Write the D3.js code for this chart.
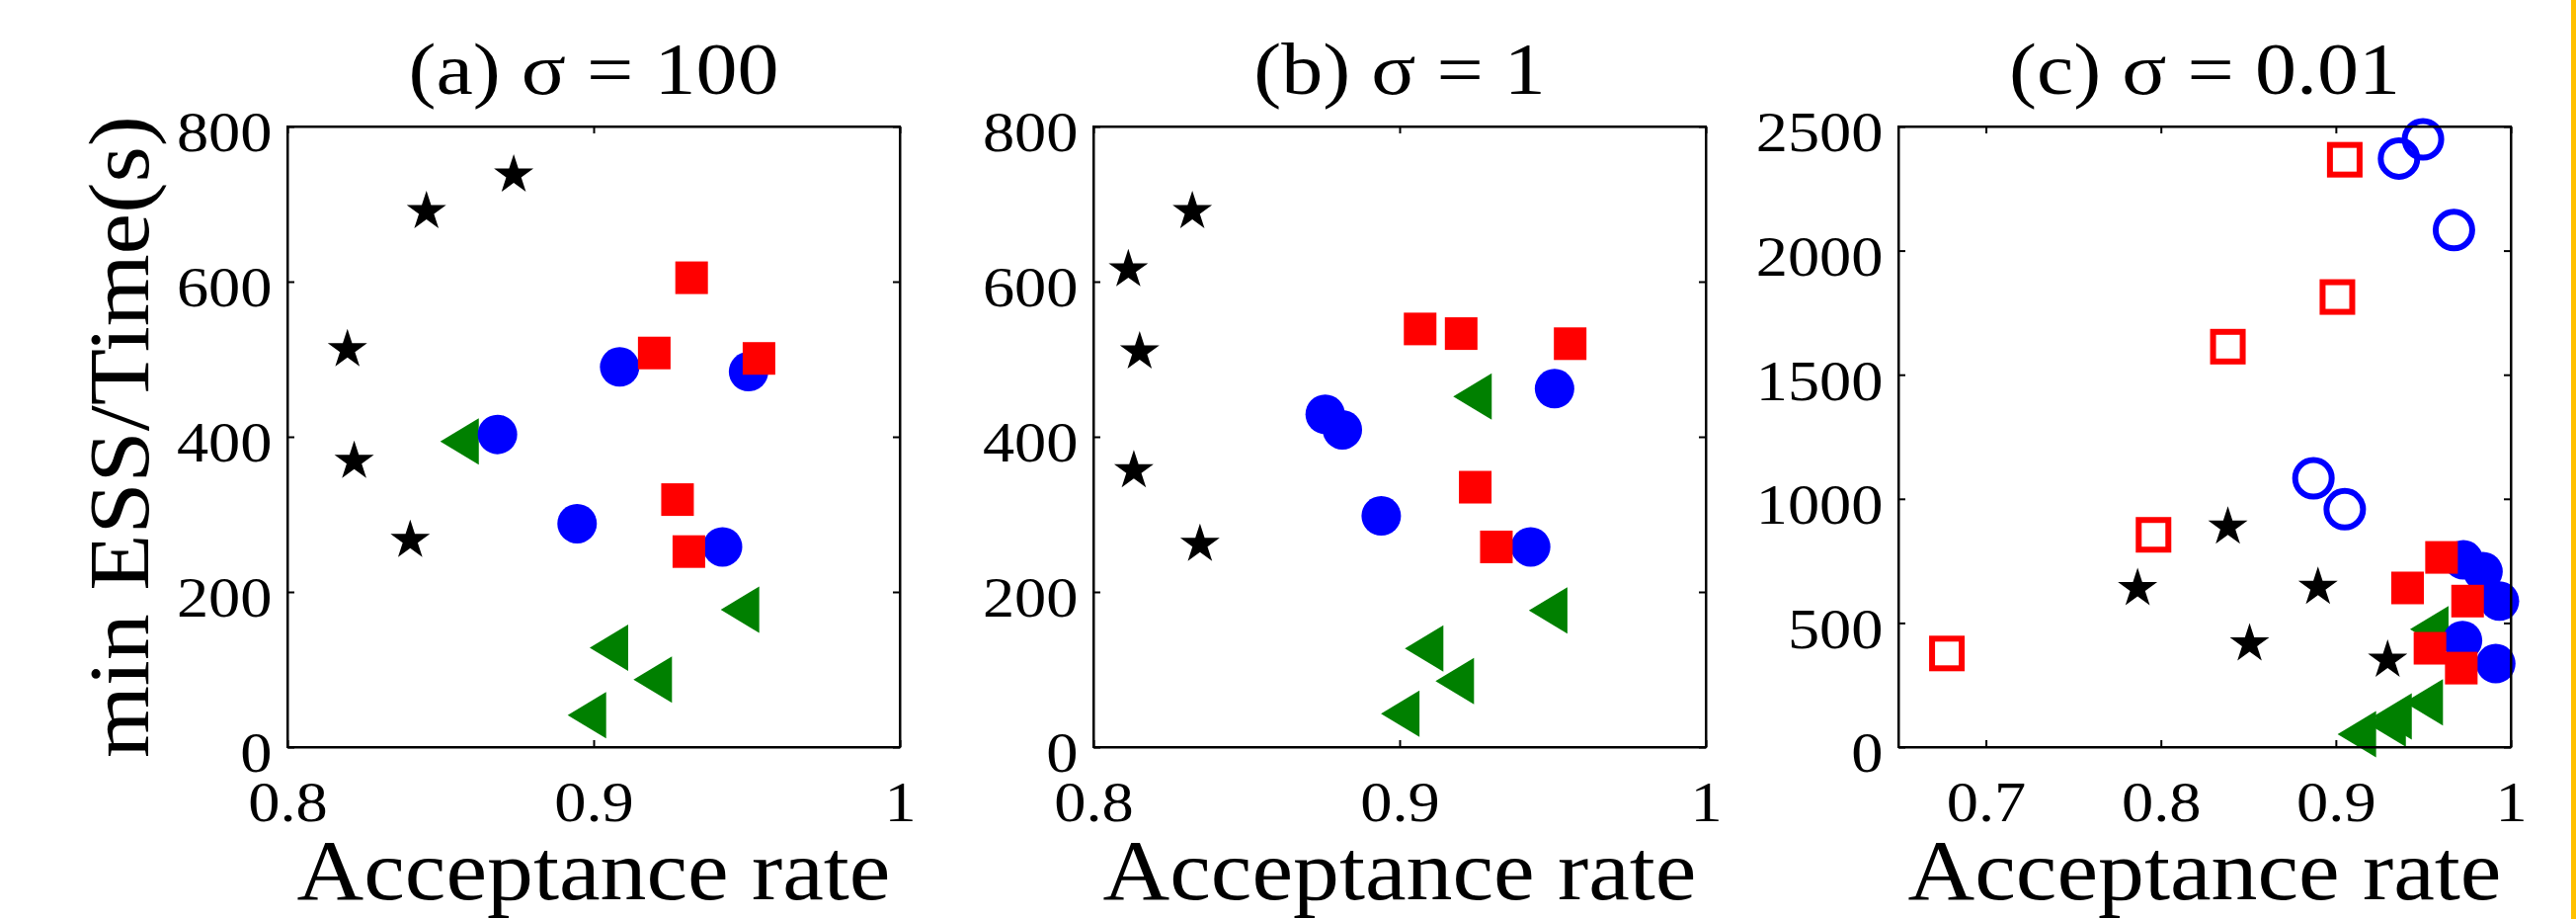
<!DOCTYPE html>
<html><head><meta charset="utf-8">
<script src="https://cdn.jsdelivr.net/npm/d3@7"></script>
<style>body{margin:0;background:#fff;overflow:hidden}</style>
</head><body><svg id="c" width="2608" height="930"></svg>
<script>
// ---------- data ----------
const titles = ["(a) \u03c3 = 100", "(b) \u03c3 = 1", "(c) \u03c3 = 0.01"];
const xLabel = "Acceptance rate";
const yLabel = "min ESS/Time(s)";
const xDomains = [[0.8, 1], [0.8, 1], [0.65, 1]];
const yDomains = [[0, 800], [0, 800], [0, 2500]];
const xTicks = [[0.8, 0.9, 1], [0.8, 0.9, 1], [0.7, 0.8, 0.9, 1]];
const xTickLabels = [["0.8", "0.9", "1"], ["0.8", "0.9", "1"], ["0.7", "0.8", "0.9", "1"]];
const yTicks = [[0, 200, 400, 600, 800], [0, 200, 400, 600, 800], [0, 500, 1000, 1500, 2000, 2500]];
const yTickLabels = [["0", "200", "400", "600", "800"], ["0", "200", "400", "600", "800"], ["0", "500", "1000", "1500", "2000", "2500"]];

// panel (a)
const starA = [[0.8196, 515], [0.8454, 693], [0.8739, 740], [0.8218, 371], [0.8401, 269]];
const circA = [[0.9085, 490], [0.9506, 484], [0.8686, 403], [0.8946, 288], [0.9421, 258]];
const sqA   = [[0.9320, 605], [0.9198, 508], [0.9540, 501], [0.9274, 319], [0.9311, 252]];
const triA  = [[0.8562, 394], [0.9050, 128], [0.9193, 87], [0.8978, 41], [0.9478, 177]];
// panel (b)
const starB = [[0.8114, 618], [0.8323, 693], [0.8151, 512], [0.8132, 359], [0.8348, 264]];
const circB = [[0.8757, 429], [0.8813, 409], [0.9506, 462], [0.8940, 298], [0.9428, 258]];
const sqB   = [[0.9067, 539], [0.9201, 533], [0.9557, 520], [0.9247, 335], [0.9316, 258]];
const triB  = [[0.9238, 452], [0.9485, 176], [0.9080, 127], [0.9180, 85], [0.9002, 43]];
// panel (c)
const starC = [[0.8383, 895], [0.7867, 647], [0.8898, 652], [0.8507, 424], [0.9296, 358]];
const circC = [[0.9729, 754], [0.9841, 707], [0.9935, 588], [0.9724, 429], [0.9914, 336]];
const sqC   = [[0.9604, 764], [0.9410, 641], [0.9753, 588], [0.9538, 398], [0.9717, 318]];
const triC  = [[0.9534, 475], [0.9502, 180], [0.9324, 123], [0.9290, 95], [0.9120, 52]];
const hollowSqC   = [[0.6777, 377], [0.7958, 855], [0.8383, 1613], [0.9009, 1813], [0.9051, 2366]];
const hollowCircC = [[0.9361, 2371], [0.9498, 2448], [0.9675, 2083], [0.8872, 1083], [0.9051, 958]];

const panelSeries = [
  {tri: triA, star: starA, circ: circA, sq: sqA, hsq: [], hcirc: []},
  {tri: triB, star: starB, circ: circB, sq: sqB, hsq: [], hcirc: []},
  {tri: triC, star: starC, circ: circC, sq: sqC, hsq: hollowSqC, hcirc: hollowCircC}
];

// ---------- layout / style ----------
const FONT = "'Liberation Serif','Times New Roman',serif";
const panelLeft = [291, 1107, 1922];
const pw = 620, plotTop = 128, plotBottom = 756;
const TICK = 7;
const BLUE = "#0000ff", RED = "#ff0000", GREEN = "#008000";
const STRETCH = 1.11;  // reference glyphs are a little wider than Liberation Serif

const svg = d3.select("#c");
svg.append("rect").attr("width", 2608).attr("height", 930).attr("fill", "#fff");
svg.append("rect").attr("x", 2603).attr("y", 0).attr("width", 5).attr("height", 930).attr("fill", "#FFC000");

const starSym = d3.symbol(d3.symbolStar, 21 * 21 / 0.8908130915292852)();
const triPath = (w, h) => `M${-w / 2},0L${w / 2},${-h / 2}L${w / 2},${h / 2}Z`;

function label(x, y, txt, size, sx, rot) {
  svg.append("text")
    .attr("transform", `translate(${x},${y})${rot ? " rotate(" + rot + ")" : ""} scale(${sx},1)`)
    .attr("text-anchor", "middle").attr("font-family", FONT).attr("font-size", size)
    .attr("fill", "#000").text(txt);
}

panelSeries.forEach((s, i) => {
  const L = panelLeft[i], R = L + pw;
  const x = d3.scaleLinear().domain(xDomains[i]).range([L, R]);
  const y = d3.scaleLinear().domain(yDomains[i]).range([plotBottom, plotTop]);
  const g = svg.append("g");

  // markers
  g.selectAll(".tri").data(s.tri).join("path")
    .attr("d", triPath(39, 47)).attr("fill", GREEN)
    .attr("transform", d => `translate(${x(d[0])},${y(d[1])})`);
  g.selectAll(".star").data(s.star).join("path")
    .attr("d", starSym).attr("fill", "#000")
    .attr("transform", d => `translate(${x(d[0])},${y(d[1]) + 2})`);
  g.selectAll(".circ").data(s.circ).join("circle")
    .attr("cx", d => x(d[0])).attr("cy", d => y(d[1])).attr("r", 20).attr("fill", BLUE);
  g.selectAll(".sq").data(s.sq).join("rect")
    .attr("x", d => x(d[0]) - 16.5).attr("y", d => y(d[1]) - 16.5)
    .attr("width", 33).attr("height", 33).attr("fill", RED);
  g.selectAll(".hsq").data(s.hsq).join("rect")
    .attr("x", d => x(d[0]) - 15).attr("y", d => y(d[1]) - 15)
    .attr("width", 30).attr("height", 30).attr("fill", "none")
    .attr("stroke", RED).attr("stroke-width", 6);
  g.selectAll(".hcirc").data(s.hcirc).join("circle")
    .attr("cx", d => x(d[0])).attr("cy", d => y(d[1])).attr("r", 18.5)
    .attr("fill", "none").attr("stroke", BLUE).attr("stroke-width", 6);

  // axes (ticks inward on all four sides)
  const ax = [
    d3.axisBottom(x).tickValues(xTicks[i]).tickFormat((d, k) => xTickLabels[i][k]),
    d3.axisTop(x).tickValues(xTicks[i]).tickFormat(""),
    d3.axisLeft(y).tickValues(yTicks[i]).tickFormat((d, k) => yTickLabels[i][k]),
    d3.axisRight(y).tickValues(yTicks[i]).tickFormat("")
  ];
  const pos = [`translate(0,${plotBottom})`, `translate(0,${plotTop})`, `translate(${L},0)`, `translate(${R},0)`];
  ax.forEach((a, k) => {
    const ag = g.append("g").attr("transform", pos[k])
      .call(a.tickSizeInner(-TICK).tickSizeOuter(0).tickPadding(14));
    ag.selectAll("path.domain").attr("stroke", "#000").attr("stroke-width", 2);
    ag.selectAll(".tick line").attr("stroke", "#000").attr("stroke-width", 2);
    ag.selectAll("text").attr("font-family", FONT).attr("font-size", 58).attr("fill", "#000")
      .attr("transform", `scale(${STRETCH},1)`);
    if (k === 0) ag.selectAll("text").attr("y", 75).attr("dy", 0);
    if (k === 2) ag.selectAll("text").attr("dy", "0.43em");
  });
  g.append("rect").attr("x", L).attr("y", plotTop).attr("width", pw).attr("height", plotBottom - plotTop)
    .attr("fill", "none").attr("stroke", "#000").attr("stroke-width", 2);

  // titles and axis labels
  label((L + R) / 2, 95, titles[i], 75, 1.12);
  label((L + R) / 2, 910, xLabel, 86, 1.09);
});

label(150, (plotTop + plotBottom) / 2, yLabel, 86, 1.09, -90);
</script></body></html>
